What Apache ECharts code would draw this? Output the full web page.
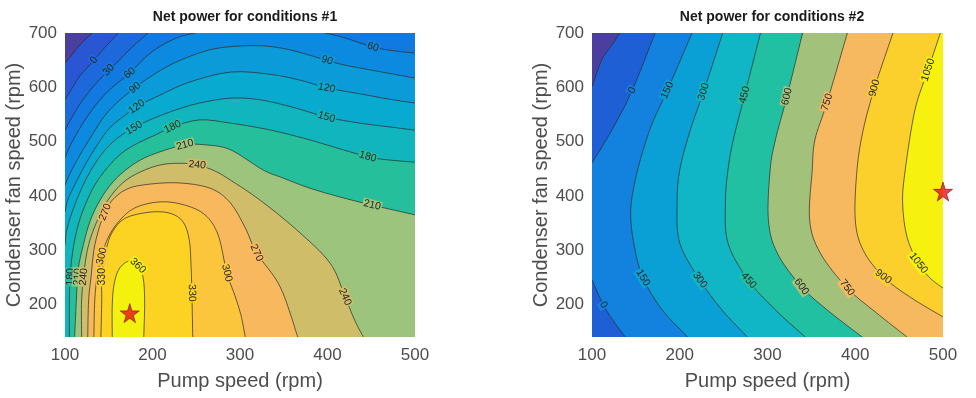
<!DOCTYPE html>
<html>
<head>
<meta charset="utf-8">
<script src="https://cdn.jsdelivr.net/npm/echarts@6/dist/echarts.min.js"></script>
<style>
html, body { margin: 0; padding: 0; background: #fff; }
#chart { width: 976px; height: 398px; }
</style>
</head>
<body>
<div id="chart"></div>
<script>
// axis ticks
var xTicks = [100, 200, 300, 400, 500];
var yTicks = [200, 300, 400, 500, 600, 700];

// conditions #1 : contour lines, [pump rpm, fan rpm]
var c1_m30 = [[100,645],[108,660],[117,678],[131,700]];
var c1_0 = [[100,577],[108,598],[117,621],[126,637],[133,650],[141,665],[151,683],[161,700]];
var c1_30 = [[100,521],[108,545],[117,569],[129,595],[140,615],[150,632],[161,648],[172,667],[183,683],[195,700]];
var c1_60a = [[100,470],[108,499],[123,540],[140,577],[157,604],[174,626],[191,654],[209,676],[231,693],[249,700]];
var c1_60b = [[397,700],[420,691],[452,674],[477,667],[500,663]];
var c1_90 = [[100,420],[106,442],[117,475],[131,512],[146,549],[163,577],[180,599],[197,619],[220,641],[246,659],[271,671],[300,676],[329,676],[357,669],[386,656],[414,643],[449,632],[500,617]];
var c1_120 = [[100,370],[103,392],[111,420],[123,457],[137,494],[151,525],[169,549],[182,564],[209,586],[243,610],[289,628],[334,624],[369,613],[399,599],[437,588],[471,578],[500,571]];
var c1_150 = [[100,309],[102,337],[109,374],[119,414],[131,451],[146,485],[163,510],[179,525],[197,540],[226,558],[254,571],[289,580],[323,577],[363,562],[399,545],[437,534],[471,527],[500,521]];
var c1_180 = [[105,140],[105,208],[106,254],[109,300],[115,346],[123,383],[134,420],[149,453],[165,479],[183,497],[203,512],[223,527],[254,540],[289,534],[323,525],[349,516],[380,503],[403,492],[446,472],[471,466],[500,462]];
var c1_210 = [[111,140],[113,208],[115,263],[121,310],[129,355],[140,392],[155,426],[172,451],[191,470],[214,484],[237,494],[260,494],[289,485],[326,448],[349,433],[380,414],[414,398],[451,383],[500,365]];
var c1_240 = [[119,140],[119,208],[122,263],[127,310],[137,355],[149,392],[166,424],[186,444],[209,457],[231,460],[251,457],[271,446],[289,429],[323,392],[365,337],[403,276],[420,214],[431,171],[441,140]];
var c1_270 = [[126,140],[127,208],[130,254],[133,300],[139,341],[146,370],[154,392],[169,411],[189,420],[228,424],[266,414],[289,387],[306,341],[319,295],[346,232],[366,140]];
var c1_300 = [[133,140],[134,208],[137,254],[142,289],[149,322],[161,352],[180,378],[209,389],[237,383],[260,365],[275,328],[285,258],[294,217],[301,181],[306,140]];
var c1_330 = [[141,140],[142,208],[142,251],[147,300],[154,333],[169,359],[197,370],[220,368],[235,352],[242,319],[244,273],[245,221],[246,140]];
var c1_360 = [[154,140],[154,199],[156,236],[161,263],[170,278],[179,278],[186,267],[190,241],[191,199],[190,140]];

// label spots [level, x, y]
var lab1 = [[0,133,650],[30,150,632],[60,174,626],[60,452,674],[90,180,599],[90,399,647],
  [120,182,564],[120,399,598],[150,179,525],[150,399,546],[180,223,527],[180,446,472],[180,104,251],
  [210,237,494],[210,451,383],[210,112,251],[240,251,457],[240,420,214],[240,120,251],
  [270,146,370],[270,319,295],[300,142,289],[300,285,258],[330,142,251],[330,243,221],[360,183,271]];
var best1 = [174, 184];

// conditions #2
var c2_m150 = [[100,601],[111,650],[121,674],[132,700]];
var c2_0a = [[138,140],[125,168],[113,199],[100,245]];
var c2_0b = [[100,461],[109,484],[126,531],[146,595],[172,700]];
var c2_150 = [[209,140],[180,190],[158,249],[148,309],[144,365],[147,411],[155,466],[168,531],[186,595],[214,700]];
var c2_300 = [[277,140],[248,190],[223,245],[200,313],[197,387],[200,448],[212,521],[227,591],[249,700]];
var c2_450 = [[343,140],[309,190],[278,245],[255,313],[252,387],[255,448],[261,503],[274,586],[292,700]];
var c2_600 = [[408,140],[371,186],[339,232],[311,295],[301,356],[303,448],[309,503],[322,582],[340,700]];
var c2_750 = [[459,140],[423,186],[391,230],[360,295],[348,356],[351,448],[354,503],[368,573],[391,700]];
var c2_900 = [[500,177],[462,214],[432,251],[409,300],[400,356],[402,448],[409,521],[422,599],[443,700]];
var c2_1050 = [[500,230],[485,249],[472,276],[459,324],[454,387],[457,448],[468,558],[483,632],[497,700]];

var lab2 = [[0,145,595],[0,113,199],[150,185,595],[150,158,249],[300,227,592],[300,223,245],
  [450,274,586],[450,278,243],[600,322,583],[600,339,233],[750,367,573],[750,390,230],
  [900,423,598],[900,432,251],[1050,483,632],[1050,472,276]];
var best2 = [500, 408];

var contours1 = [[-30,[c1_m30]],[0,[c1_0]],[30,[c1_30]],[60,[c1_60a,c1_60b]],[90,[c1_90]],
  [120,[c1_120]],[150,[c1_150]],[180,[c1_180]],[210,[c1_210]],[240,[c1_240]],[270,[c1_270]],
  [300,[c1_300]],[330,[c1_330]],[360,[c1_360]]];
var contours2 = [[-150,[c2_m150]],[0,[c2_0a,c2_0b]],[150,[c2_150]],[300,[c2_300]],[450,[c2_450]],
  [600,[c2_600]],[750,[c2_750]],[900,[c2_900]],[1050,[c2_1050]]];

// band colours, lowest band first
var colors1 = ['#4a3f9f','#2a56d3','#1d69dc','#1279e0','#0c8adf','#0a9bd8','#08aacf','#11b5bd',
  '#25bf9c','#9cc47c','#cfbd69','#f8b85e','#fcc63c','#fcd322','#f5f10f'];
var colors2 = ['#4a3f9f','#1f5fd6','#1382de','#0aa0d6','#10b5c6','#22c0a2','#a2c27c','#f7b960','#fcd02c','#f6f10e'];

var X0 = 100, X1 = 500, Y0 = 140, Y1 = 700;
var W = X1 - X0, H = Y1 - Y0, P = 2 * W + 2 * H;
var corners = [[X0, Y1, 0], [X1, Y1, W], [X1, Y0, W + H], [X0, Y0, 2 * W + H]];

// position along the frame, clockwise from the top-left corner
function edgePos(p) {
    if (p[1] >= Y1) return p[0] - X0;
    if (p[0] >= X1) return W + (Y1 - p[1]);
    if (p[1] <= Y0) return W + H + (X1 - p[0]);
    return 2 * W + H + (p[1] - Y0);
}

function curve(pix) {
    var s = '';
    for (var i = 0; i < pix.length - 1; i++) {
        var p0 = pix[i - 1] || pix[i], p1 = pix[i], p2 = pix[i + 1], p3 = pix[i + 2] || pix[i + 1];
        s += 'C' + (p1[0] + (p2[0] - p0[0]) / 6) + ',' + (p1[1] + (p2[1] - p0[1]) / 6) + ','
            + (p2[0] - (p3[0] - p1[0]) / 6) + ',' + (p2[1] - (p3[1] - p1[1]) / 6) + ','
            + p2[0] + ',' + p2[1];
    }
    return s;
}

function fillPath(segs, api) {
    var d = '';
    segs.forEach(function (seg, i) {
        var pix = seg.map(function (p) { return api.coord(p); });
        d += (i === 0 ? 'M' : 'L') + pix[0][0] + ',' + pix[0][1] + curve(pix);
        var tE = edgePos(seg[seg.length - 1]);
        var tS = edgePos(segs[(i + 1) % segs.length][0]);
        var span = tS - tE; if (span < 0) span += P;
        corners.map(function (c) {
            var dc = c[2] - tE; if (dc <= 0) dc += P;
            return [dc, c];
        }).filter(function (a) { return a[0] < span; })
          .sort(function (a, b) { return a[0] - b[0]; })
          .forEach(function (a) {
              var q = api.coord([a[1][0], a[1][1]]);
              d += 'L' + q[0] + ',' + q[1];
          });
    });
    return d + 'Z';
}

function fillSeries(table, colors, gi) {
    return {
        type: 'custom', xAxisIndex: gi, yAxisIndex: gi, clip: true, silent: true, z: 1,
        data: table.map(function (t, i) { return [X0, Y0, i]; }),
        renderItem: function (params, api) {
            var k = api.value(2);
            return { type: 'path', shape: { pathData: fillPath(table[k][1], api) },
                style: { fill: colors[k + 1], stroke: null } };
        }
    };
}

function lineSeries(table, gi) {
    var list = [];
    table.forEach(function (t) { t[1].forEach(function (seg) { list.push(seg); }); });
    return {
        type: 'custom', xAxisIndex: gi, yAxisIndex: gi, clip: true, silent: true, z: 2,
        data: list.map(function (s, i) { return [X0, Y0, i]; }),
        renderItem: function (params, api) {
            var pix = list[api.value(2)].map(function (p) { return api.coord(p); });
            return { type: 'path', shape: { pathData: 'M' + pix[0][0] + ',' + pix[0][1] + curve(pix) },
                style: { fill: 'none', stroke: '#2a2a2a', lineWidth: 0.7 } };
        }
    };
}

function labelSeries(table, labels, colors, gi) {
    return {
        type: 'custom', xAxisIndex: gi, yAxisIndex: gi, clip: true, silent: true, z: 3,
        data: labels.map(function (l, i) { return [l[1], l[2], i]; }),
        renderItem: function (params, api) {
            var l = labels[api.value(2)];
            var k = 0;
            table.forEach(function (t, i) { if (t[0] === l[0]) k = i; });
            var at = api.coord([l[1], l[2]]);
            var best = null;
            table[k][1].forEach(function (seg) {
                var pix = seg.map(function (p) { return api.coord(p); });
                for (var i = 0; i < pix.length - 1; i++) {
                    var a = pix[i], b = pix[i + 1];
                    var dx = b[0] - a[0], dy = b[1] - a[1];
                    var u = ((at[0] - a[0]) * dx + (at[1] - a[1]) * dy) / (dx * dx + dy * dy);
                    u = Math.max(0, Math.min(1, u));
                    var q = [a[0] + u * dx, a[1] + u * dy];
                    var dist = Math.hypot(q[0] - at[0], q[1] - at[1]);
                    if (!best || dist < best.dist) best = { dist: dist, q: q, ang: Math.atan2(dy, dx) };
                }
            });
            var ang = best.ang;
            if (ang > Math.PI / 2) ang -= Math.PI;
            if (ang < -Math.PI / 2) ang += Math.PI;
            return {
                type: 'text', x: best.q[0], y: best.q[1], rotation: -ang,
                style: {
                    text: String(l[0]), fill: '#262626', font: '10.5px "Liberation Sans", Arial, sans-serif',
                    align: 'center', verticalAlign: 'middle', backgroundColor: colors[k + 1], padding: [0, 1]
                }
            };
        }
    };
}

var starPath = 'path://M50,0 L61,35 L98,35 L68,57 L79,91 L50,70 L21,91 L32,57 L2,35 L39,35 Z';
var gray = '#4d4d4d';
var font = '"Liberation Sans", Arial, sans-serif';

function xAxisOf(gi) {
    return {
        gridIndex: gi, type: 'value', min: X0, max: X1, interval: 100,
        name: 'Pump speed (rpm)', nameLocation: 'middle', nameGap: 34,
        nameTextStyle: { fontSize: 20, color: gray, fontFamily: font },
        axisLine: { show: false }, axisTick: { show: false }, splitLine: { show: false },
        axisLabel: { customValues: xTicks, fontSize: 17, color: gray, margin: 10, fontFamily: font }
    };
}
function yAxisOf(gi) {
    return {
        gridIndex: gi, type: 'value', min: Y0, max: Y1,
        name: 'Condenser fan speed (rpm)', nameLocation: 'middle', nameGap: 40,
        nameTextStyle: { fontSize: 20, color: gray, fontFamily: font },
        axisLine: { show: false }, axisTick: { show: false }, splitLine: { show: false },
        axisLabel: { customValues: yTicks, fontSize: 17, color: gray, margin: 8, fontFamily: font }
    };
}

var chart = echarts.init(document.getElementById('chart'), null, { renderer: 'canvas' });
chart.setOption({
    animation: false,
    title: [
        { text: 'Net power for conditions #1', left: 240, top: 5, textAlign: 'center',
          textStyle: { fontSize: 14, fontWeight: 'bold', color: '#1a1a1a', fontFamily: font } },
        { text: 'Net power for conditions #2', left: 767, top: 5, textAlign: 'center',
          textStyle: { fontSize: 14, fontWeight: 'bold', color: '#1a1a1a', fontFamily: font } }
    ],
    grid: [
        { left: 65, top: 33, width: 350, height: 304, show: true, backgroundColor: colors1[0], borderWidth: 0 },
        { left: 592, top: 33, width: 351, height: 304, show: true, backgroundColor: colors2[0], borderWidth: 0 }
    ],
    xAxis: [xAxisOf(0), xAxisOf(1)],
    yAxis: [yAxisOf(0), yAxisOf(1)],
    series: [
        fillSeries(contours1, colors1, 0),
        lineSeries(contours1, 0),
        labelSeries(contours1, lab1, colors1, 0),
        fillSeries(contours2, colors2, 1),
        lineSeries(contours2, 1),
        labelSeries(contours2, lab2, colors2, 1),
        { type: 'scatter', xAxisIndex: 0, yAxisIndex: 0, data: [best1], symbol: starPath, symbolSize: 19, z: 5,
          itemStyle: { color: '#e3131b', borderColor: '#8a0a0a', borderWidth: 0.8 } },
        { type: 'scatter', xAxisIndex: 1, yAxisIndex: 1, data: [best2], symbol: starPath, symbolSize: 19, z: 5,
          clip: false, itemStyle: { color: '#e3131b', borderColor: '#8a0a0a', borderWidth: 0.8 } }
    ]
});
</script>
</body>
</html>
